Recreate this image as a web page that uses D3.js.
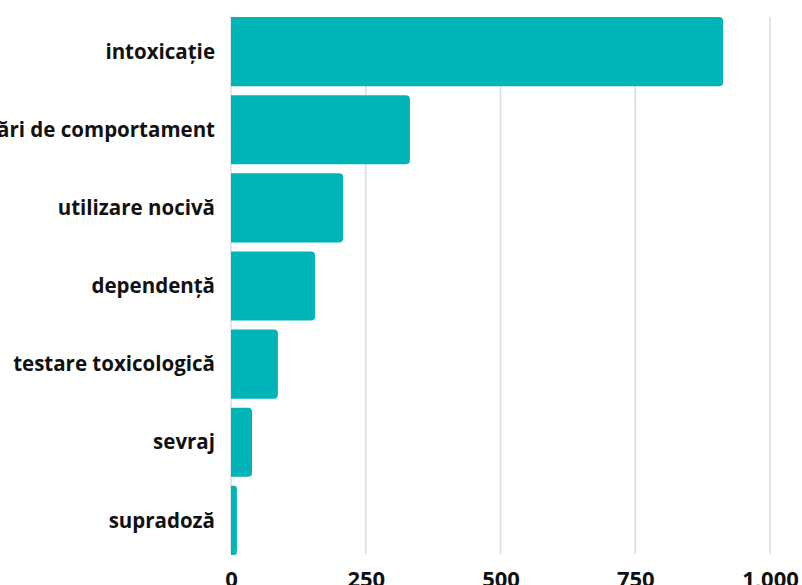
<!DOCTYPE html>
<html>
<head>
<meta charset="utf-8">
<script src="https://cdn.jsdelivr.net/npm/d3@7"></script>
<style>
  body { margin: 0; background: #fff; }
  svg text { font-family: "Open Sans", "Noto Sans", sans-serif; font-weight: 700; fill: #111; }
</style>
</head>
<body>
<div id="chart"></div>
<script>
const categories = ["intoxicație", "tulburări de comportament", "utilizare nocivă", "dependență", "testare toxicologică", "sevraj", "supradoză"];
const values = [913, 332, 208, 156, 87, 39, 11];
const tickValues = [0, 250, 500, 750, 1000];

const width = 802, height = 585;
const margin = { top: 17, right: 0, bottom: 31, left: 231 };

const svg = d3.select("#chart").append("svg")
    .attr("width", width)
    .attr("height", height);

const x = d3.scaleLinear()
    .domain([0, 1000])
    .range([margin.left, 770]);

const y = d3.scaleBand()
    .domain(categories)
    .range([margin.top, height - margin.bottom + 1])
    .paddingInner(0.115)
    .paddingOuter(0);

// gridlines
svg.append("g")
    .selectAll("line")
    .data(tickValues)
    .join("line")
    .attr("x1", d => x(d))
    .attr("x2", d => x(d))
    .attr("y1", margin.top)
    .attr("y2", height - margin.bottom)
    .attr("stroke", "#dcdcdc")
    .attr("stroke-width", 1.5);

// bars with rounded right end
const r = 4;
svg.append("g")
    .selectAll("path")
    .data(categories)
    .join("path")
    .attr("fill", "#00b5b8")
    .attr("d", (d, i) => {
        const x0 = x(0), x1 = x(values[i]);
        const y0 = y(d), h = y.bandwidth();
        const rr = Math.min(r, (x1 - x0) / 2);
        return `M${x0},${y0} H${x1 - rr} Q${x1},${y0} ${x1},${y0 + rr} V${y0 + h - rr} Q${x1},${y0 + h} ${x1 - rr},${y0 + h} H${x0} Z`;
    });

// category labels
svg.append("g")
    .selectAll("text")
    .data(categories)
    .join("text")
    .attr("x", 215)
    .attr("y", d => y(d) + y.bandwidth() / 2)
    .attr("dy", "0.35em")
    .attr("text-anchor", "end")
    .attr("font-size", 20.5)
    .text(d => d);

// x axis labels
const xAxis = svg.append("g")
    .attr("transform", `translate(0,${height - margin.bottom})`)
    .call(d3.axisBottom(x).tickValues(tickValues).tickSize(0).tickPadding(17).tickFormat(d3.format(",")));
xAxis.select(".domain").remove();
xAxis.selectAll("text")
    .attr("font-size", 22)
    .attr("dy", "0.71em");
</script>
</body>
</html>
